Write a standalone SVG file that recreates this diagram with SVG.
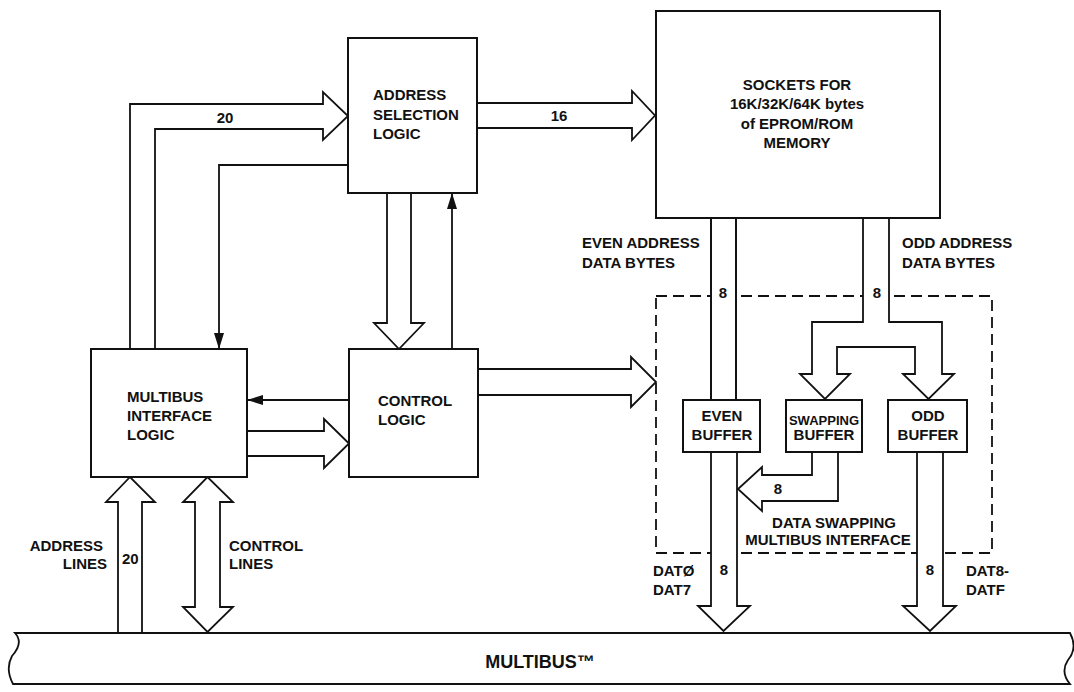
<svg xmlns="http://www.w3.org/2000/svg" width="1074" height="692" viewBox="0 0 1074 692">
<defs>
<style>
.box{fill:#fff;stroke:#111;stroke-width:2}
.bus{fill:#fff;stroke:#111;stroke-width:1.8;stroke-linejoin:miter}
.ln{fill:none;stroke:#111;stroke-width:1.8}
.dash{fill:none;stroke:#111;stroke-width:1.8;stroke-dasharray:11 6}
text{font-family:"Liberation Sans",Arial,Helvetica,sans-serif;font-weight:bold;font-size:15px;fill:#111}
.m{text-anchor:middle}
.e{text-anchor:end}
</style>
<marker id="ah" markerUnits="userSpaceOnUse" markerWidth="16" markerHeight="10" refX="16" refY="5" orient="auto">
<path d="M0,0 L16,5 L0,10 Z" fill="#111"/>
</marker>
</defs>
<rect width="1074" height="692" fill="#fff"/>

<g id="dashed-region">
<rect class="dash" x="656" y="296" width="336" height="257"/>
</g>

<g id="connectors">
<path class="bus" d="M130,349 V104 H323 V92 L348,116 L323,140 V129 H155 V349"/>
<path class="bus" d="M477,103 H632 V91 L655,115.5 L632,140 V128 H477"/>
<path class="bus" d="M387,193 V323 H374 L399,349 L424,323 H411 V193"/>
<path class="bus" d="M247,431 H324 V419 L349,443.5 L324,468 V456 H247"/>
<path class="bus" d="M478,369 H631 V357 L656,382 L631,407 V395 H478"/>
<path class="bus" d="M118,633 V502 H106 L130,477 L155,502 H142 V633"/>
<path class="bus" d="M195,502 H183 L207.5,477 L233,502 H220 V607 H233 L207.5,632 L183,607 H195 Z"/>
<path class="bus" d="M711,218 V400 H736 V218" stroke="none"/>
<path class="ln" d="M711,218 V400 M736,218 V400"/>
<path class="bus" d="M711,452 V606 H698 L723.5,631 L750,606 H737 V452"/>
<path class="bus" d="M863,218 V322 H812 V374 H800 L825,399 L850,374 H837 V347 H915 V374 H903 L928.5,399 L954,374 H942 V322 H889 V218"/>
<path class="bus" d="M812,452 V475 H762 V467 L738,489 L762,511 V501 H838 V452"/>
<path class="bus" d="M917,452 V606 H903 L930,631 L956,606 H943 V452"/>
<path class="ln" d="M348,165 H219 V349" marker-end="url(#ah)"/>
<path class="ln" d="M349,400 H247" marker-end="url(#ah)"/>
<path class="ln" d="M452,349 V193" marker-end="url(#ah)"/>
</g>

<g id="multibus">
<path class="bus" d="M15,633 H1070 Q1078,648 1068,660 Q1060,672 1070,684 H13 Q5,669 12,656 Q24,643 15,633 Z"/>
<text class="m" x="540" y="668" style="font-size:18px">MULTIBUS™</text>
</g>

<g id="address-selection-logic">
<rect class="box" x="348" y="38" width="129" height="155"/>
<text x="373" y="100">ADDRESS</text>
<text x="373" y="120">SELECTION</text>
<text x="373" y="139">LOGIC</text>
</g>

<g id="sockets">
<rect class="box" x="656" y="11" width="284" height="207"/>
<text class="m" x="797" y="90">SOCKETS FOR</text>
<text class="m" x="797" y="109">16K/32K/64K bytes</text>
<text class="m" x="797" y="129">of EPROM/ROM</text>
<text class="m" x="797" y="148">MEMORY</text>
</g>

<g id="multibus-interface-logic">
<rect class="box" x="91" y="349" width="156" height="128"/>
<text x="127" y="402">MULTIBUS</text>
<text x="127" y="421">INTERFACE</text>
<text x="127" y="440">LOGIC</text>
</g>

<g id="control-logic">
<rect class="box" x="349" y="349" width="129" height="128"/>
<text x="378" y="406">CONTROL</text>
<text x="378" y="425">LOGIC</text>
</g>

<g id="even-buffer">
<rect class="box" x="683" y="400" width="77" height="52"/>
<text class="m" x="722" y="421">EVEN</text>
<text class="m" x="722" y="440">BUFFER</text>
</g>

<g id="swapping-buffer">
<rect class="box" x="786" y="400" width="76" height="52"/>
<text class="m" x="824" y="425" style="font-size:13px">SWAPPING</text>
<text class="m" x="824" y="440">BUFFER</text>
</g>

<g id="odd-buffer">
<rect class="box" x="888" y="400" width="79" height="52"/>
<text class="m" x="928" y="421">ODD</text>
<text class="m" x="928" y="440">BUFFER</text>
</g>

<g id="labels">
<text class="m" x="225" y="123">20</text>
<text class="m" x="559" y="121">16</text>
<text x="582" y="248">EVEN ADDRESS</text>
<text x="582" y="268">DATA BYTES</text>
<text x="902" y="248">ODD ADDRESS</text>
<text x="902" y="268">DATA BYTES</text>
<text class="m" x="723" y="298">8</text>
<text class="m" x="877" y="298">8</text>
<text class="m" x="778" y="494">8</text>
<text class="m" x="834" y="528">DATA SWAPPING</text>
<text class="m" x="828" y="545">MULTIBUS INTERFACE</text>
<text class="e" x="103" y="551">ADDRESS</text>
<text class="e" x="107" y="569">LINES</text>
<text x="122" y="564">20</text>
<text x="229" y="551">CONTROL</text>
<text x="229" y="569">LINES</text>
<text x="653" y="576">DATØ</text>
<text x="653" y="595">DAT7</text>
<text class="m" x="724" y="575">8</text>
<text class="m" x="930" y="575">8</text>
<text x="966" y="576">DAT8-</text>
<text x="966" y="595">DATF</text>
</g>
</svg>
